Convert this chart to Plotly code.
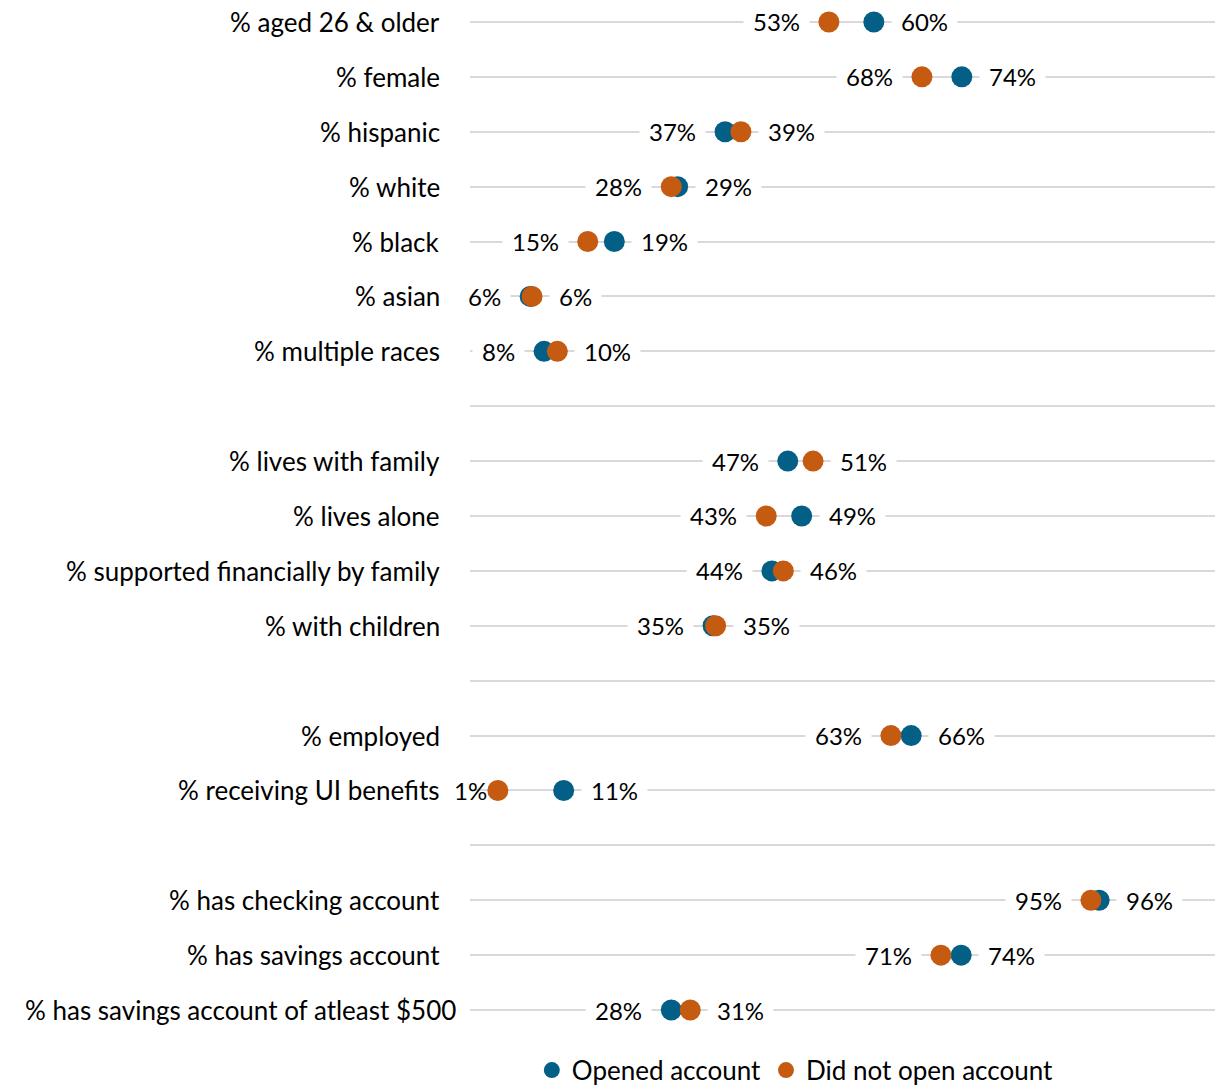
import plotly.graph_objects as go

# Rows (top to bottom); "" marks blank separator rows
categories = [
    "% aged 26 & older", "% female", "% hispanic", "% white", "% black",
    "% asian", "% multiple races", "",
    "% lives with family", "% lives alone", "% supported financially by family",
    "% with children", "",
    "% employed", "% receiving UI benefits", "",
    "% has checking account", "% has savings account",
    "% has savings account of atleast $500",
]
# values in percent (None for blank rows)
opened = [60.4, 74.3, 36.9, 29.4, 19.4, 6.1, 8.3, None,
          46.8, 49.0, 44.3, 35.0, None,
          66.3, 11.4, None,
          96.0, 74.2, 28.4]
not_opened = [53.3, 68.0, 39.4, 28.4, 15.2, 6.4, 10.4, None,
              50.8, 43.4, 46.1, 35.4, None,
              63.1, 1.0, None,
              94.7, 71.0, 31.4]
series_names = ["Opened account", "Did not open account"]

BLUE = "#045f87"
ORANGE = "#c55a11"
FONT = "Lato"
FS = 24
FS_CAT = 26

rows = list(range(len(categories)))
fig = go.Figure()

ys_o = [r for r, v in zip(rows, opened) if v is not None]
xs_o = [v for v in opened if v is not None]
ys_n = [r for r, v in zip(rows, not_opened) if v is not None]
xs_n = [v for v in not_opened if v is not None]

fig.add_trace(go.Scatter(x=xs_o, y=ys_o, mode="markers", name=series_names[0],
                         marker=dict(color=BLUE, size=21, line=dict(width=0))))
fig.add_trace(go.Scatter(x=xs_n, y=ys_n, mode="markers", name=series_names[1],
                         marker=dict(color=ORANGE, size=21, line=dict(width=0))))

annotations = []
for r, cat, a, b in zip(rows, categories, opened, not_opened):
    if cat:
        annotations.append(dict(xref="paper", yref="y", x=0, y=r, text=cat,
                                xanchor="right", yanchor="middle",
                                xshift=-12 if len(cat) > 35 else -28,
                                showarrow=False,
                                font=dict(family=FONT, size=FS_CAT, color="#000")))
    if a is None:
        continue
    lo, hi = min(a, b), max(a, b)
    if lo < 5:
        # label pinned to the plot-area edge (as in the original)
        annotations.append(dict(xref="paper", x=0, y=r, text=f"{round(lo)}%",
                                xanchor="left", yanchor="middle", xshift=-18,
                                showarrow=False,
                                font=dict(family=FONT, size=FS, color="#000")))
    else:
        annotations.append(dict(x=lo, y=r, text=f"{round(lo)}%", xanchor="right",
                                yanchor="middle", xshift=-19, showarrow=False,
                                bgcolor="white", borderpad=9,
                                font=dict(family=FONT, size=FS, color="#000")))
    annotations.append(dict(x=hi, y=r, text=f"{round(hi)}%", xanchor="left",
                            yanchor="middle", xshift=17, showarrow=False,
                            bgcolor="white", borderpad=9,
                            font=dict(family=FONT, size=FS, color="#000")))

fig.update_layout(
    width=1215, height=1086,
    margin=dict(l=470, r=0, t=0, b=46, autoexpand=False),
    paper_bgcolor="white", plot_bgcolor="white",
    xaxis=dict(range=[-3.4, 114.3], showgrid=False, zeroline=False,
               showticklabels=False, showline=False),
    yaxis=dict(range=[18.546, -0.4], tickvals=rows, ticktext=[""] * len(rows),
               showgrid=True, gridcolor="#d9d9d9", gridwidth=2,
               zeroline=False, showline=False, ticks=""),
    showlegend=True,
    legend=dict(orientation="h", x=0.083, xanchor="left", y=-0.029,
                yanchor="middle", font=dict(family=FONT, size=FS_CAT, color="#000"),
                itemwidth=30, traceorder="normal"),
    annotations=annotations,
)

fig.write_html("out.html", config={"displayModeBar": False},
               post_script="document.body.style.margin='0';document.body.style.overflow='hidden';")
